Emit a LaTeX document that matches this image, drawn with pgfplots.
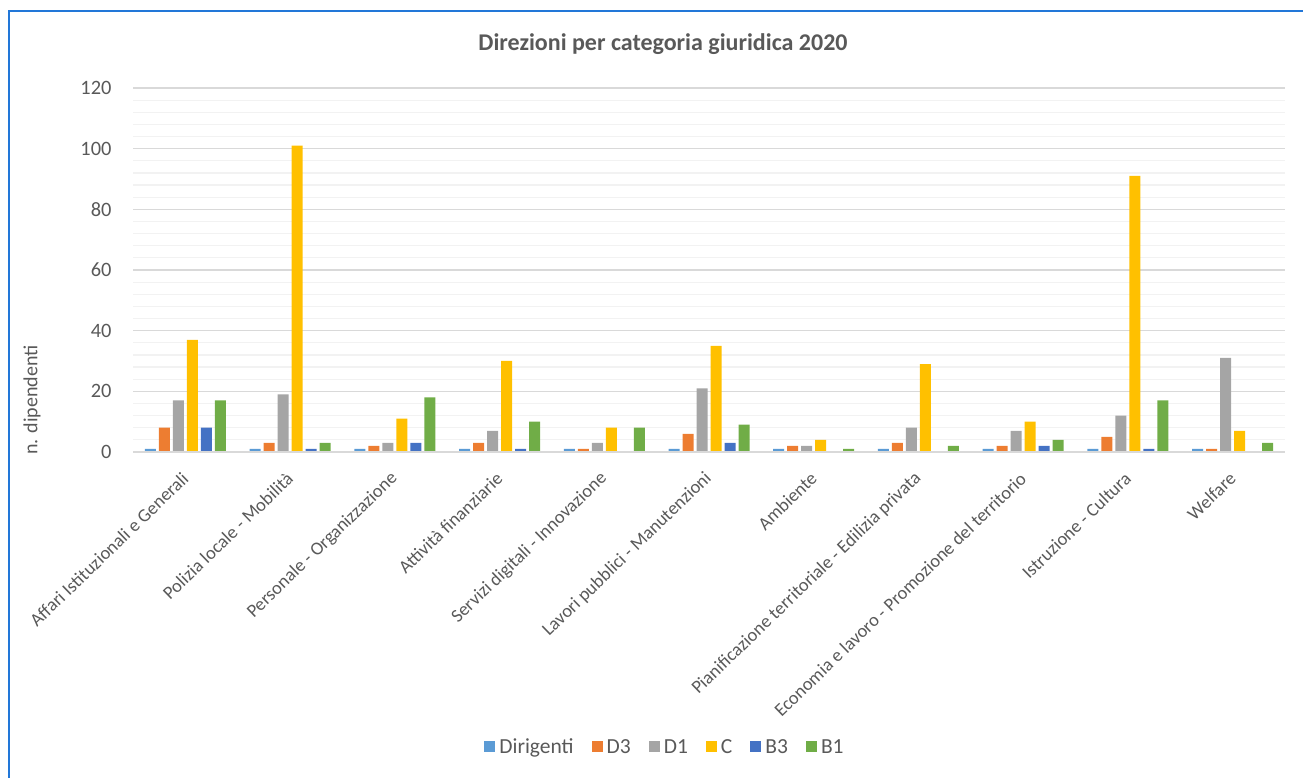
\documentclass[border=0pt]{standalone}
\usepackage{pgfplots}
\pgfplotsset{compat=1.18}
\usepackage{pgfplotstable}
\usepackage{fontspec}
\setmainfont{Carlito}
\definecolor{cDir}{HTML}{5B9BD5}
\definecolor{cD3}{HTML}{ED7D31}
\definecolor{cD1}{HTML}{A5A5A5}
\definecolor{cC}{HTML}{FFC000}
\definecolor{cB3}{HTML}{4472C4}
\definecolor{cB1}{HTML}{70AD47}
\definecolor{txt}{HTML}{595959}
\definecolor{frame}{HTML}{2277D8}
\pgfplotstableread{
x Dir D3 D1 C B3 B1
0 1 8 17 37 8 17
1 1 3 19 101 1 3
2 1 2 3 11 3 18
3 1 3 7 30 1 10
4 1 1 3 8 0 8
5 1 6 21 35 3 9
6 1 2 2 4 0 1
7 1 3 8 29 0 2
8 1 2 7 10 2 4
9 1 5 12 91 1 17
10 1 1 31 7 0 3
}\datatab
\begin{document}
\begin{tikzpicture}
\useasboundingbox (0pt,0pt) rectangle (1303pt,778pt);
\draw[frame,line width=2.5pt] (9pt,0pt) -- (9pt,767pt) -- (1303pt,767pt);
\node[font=\fontsize{24}{28}\selectfont\bfseries,text=txt] at (663pt,734pt) {Direzioni per categoria giuridica 2020};
\node[font=\fontsize{20}{24}\selectfont,text=txt,rotate=90] at (32pt,378pt) {n. dipendenti};
\begin{axis}[
  at={(133pt,326pt)}, anchor=south west,
  scale only axis, width=1152pt, height=364pt,
  ybar=3pt, bar width=11pt,
  xmin=-0.5, xmax=10.5, ymin=0, ymax=120,
  ytick={0,20,...,120}, minor y tick num=4,
  xtick={0,...,10},
  xticklabels={Affari Istituzionali e Generali, Polizia locale - Mobilità, Personale - Organizzazione, Attività finanziarie, Servizi digitali - Innovazione, Lavori pubblici - Manutenzioni, Ambiente, Pianificazione territoriale - Edilizia privata, Economia e lavoro - Promozione del territorio, Istruzione - Cultura, Welfare},
  major tick length=0pt, minor tick length=0pt,
  axis line style={draw=none},
  ymajorgrids, yminorgrids,
  major grid style={draw=black!15, line width=1.2pt},
  minor grid style={draw=black!5, line width=1.2pt},
  /pgf/number format/assume math mode=true,
  tick label style={font=\fontsize{20.4}{24}\selectfont, text=txt},
  yticklabel style={xshift=-18pt},
  xticklabel style={font=\fontsize{18.5}{22}\selectfont, rotate=44, anchor=east, xshift=-13pt, yshift=-17pt},
  legend style={at={(0.4618,-0.81)}, anchor=center, draw=none, fill=none, font=\fontsize{21.5}{25}\selectfont, text=txt, legend columns=6, /tikz/every even column/.append style={column sep=16pt}},
  legend cell align=left,
  legend image code/.code={\fill[#1] (0pt,-5.5pt) rectangle (11pt,5.5pt); \path (13pt,0pt);},
  every axis plot/.append style={draw=none},
]
\addplot[fill=cDir] table[x=x,y=Dir]{\datatab};
\addplot[fill=cD3] table[x=x,y=D3]{\datatab};
\addplot[fill=cD1] table[x=x,y=D1]{\datatab};
\addplot[fill=cC] table[x=x,y=C]{\datatab};
\addplot[fill=cB3] table[x=x,y=B3]{\datatab};
\addplot[fill=cB1] table[x=x,y=B1]{\datatab};
\legend{Dirigenti, D3, D1, C, B3, B1}
\draw[black!15, line width=1.2pt] (rel axis cs:0,0) -- (rel axis cs:1,0);
\end{axis}
\end{tikzpicture}
\end{document}
